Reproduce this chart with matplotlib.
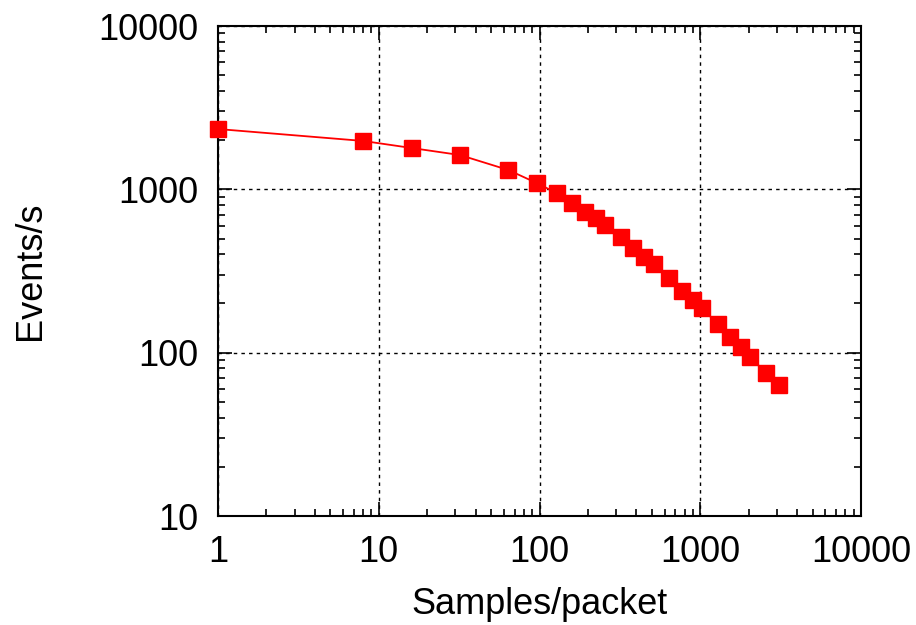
import matplotlib
matplotlib.use('Agg')
import matplotlib.pyplot as plt
from matplotlib.ticker import FixedLocator, FixedFormatter, LogLocator, NullFormatter

# Samples per packet vs. event rate
samples = [1, 8, 16, 32, 64, 96, 128, 160, 192, 224, 256, 320, 384, 448, 512,
           640, 768, 896, 1024, 1280, 1536, 1792, 2048, 2560, 3072]
events = [2340, 1978, 1791, 1622, 1313, 1093, 949, 824, 726, 667, 604, 510, 437,
          385, 349, 287, 239, 210, 188, 150, 125, 108, 94, 75, 63]

x_ticks = [1, 10, 100, 1000, 10000]
y_ticks = [10, 100, 1000, 10000]

plt.rcParams['font.family'] = ['Liberation Sans', 'DejaVu Sans']

fig = plt.figure(figsize=(9.16, 6.25), dpi=100)
ax = fig.add_axes([0.238, 0.1744, 0.702, 0.784])

ax.set_xscale('log')
ax.set_yscale('log')
ax.set_xlim(1, 10000)
ax.set_ylim(10, 10000)

ax.plot(samples, events, color='red', linewidth=1.3, marker='s',
        markersize=12, markerfacecolor='red', markeredgecolor='red',
        zorder=3, clip_on=False)

ax.xaxis.set_major_locator(FixedLocator(x_ticks))
ax.xaxis.set_major_formatter(FixedFormatter([str(v) for v in x_ticks]))
ax.yaxis.set_major_locator(FixedLocator(y_ticks))
ax.yaxis.set_major_formatter(FixedFormatter([str(v) for v in y_ticks]))
ax.xaxis.set_minor_locator(LogLocator(base=10, subs=range(2, 10)))
ax.yaxis.set_minor_locator(LogLocator(base=10, subs=range(2, 10)))
ax.xaxis.set_minor_formatter(NullFormatter())
ax.yaxis.set_minor_formatter(NullFormatter())

ax.tick_params(which='both', direction='in', top=True, right=True,
               labelsize=26, width=1.2)
ax.tick_params(which='major', length=10, pad=14)
ax.tick_params(which='minor', length=5)

ax.grid(True, which='major', color='black', linestyle=(0, (2.5, 3)), linewidth=1)

for s in ax.spines.values():
    s.set_linewidth(1.5)

ax.set_xlabel('Samples/packet', fontsize=26, labelpad=12)
ax.set_ylabel('Events/s', fontsize=26, labelpad=36)

fig.savefig('out.png', dpi=100)
